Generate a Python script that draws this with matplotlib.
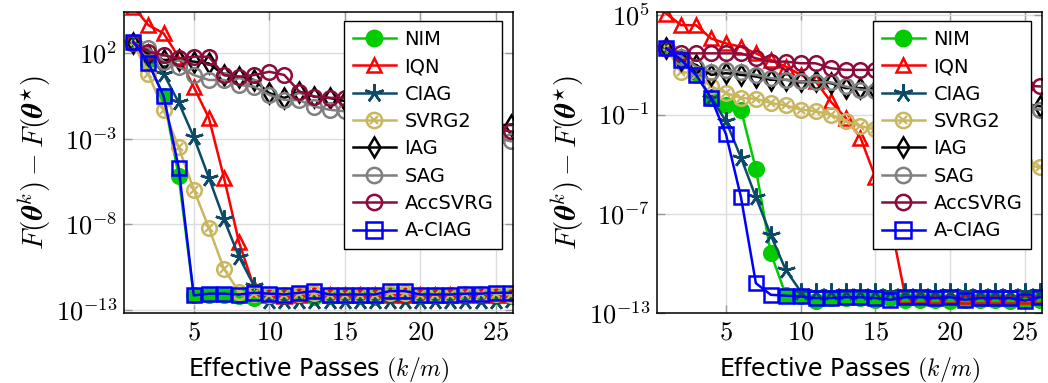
import numpy as np
import matplotlib
matplotlib.use("Agg")
import matplotlib.pyplot as plt
from matplotlib.legend_handler import HandlerTuple

plt.rcParams['font.family'] = ['DejaVu Sans']
plt.rcParams['mathtext.fontset'] = 'cm'

# ---------------- data (log10 of F(theta^k) - F(theta*)) ----------------
passes = list(range(1, 27))

methods = ["NIM", "IQN", "CIAG", "SVRG2", "IAG", "SAG", "AccSVRG", "A-CIAG"]

# left panel
nim_L = [2.6, 1.42, -0.5, -5.2, -12.15, -12.1, -12.1, -12.2, -12.3, -12.2, -12.2, -12.15, -12.25,
         -12.2, -12.2, -12.2, -12.25, -12.1, -12.2, -12.2, -12.2, -12.15, -12.2, -12.2, -12.2, -12.2]
iqn_L = [4.7, 3.63, 3.16, 1.77, 0.02, -1.78, -5.27, -9.05, -11.7, -12.1, -12.2, -12.1, -12.0,
         -12.1, -12.1, -12.1, -12.1, -12.1, -12.1, -12.1, -12.1, -12.1, -12.1, -12.1, -12.1, -12.1]
ciag_L = [2.6, 1.9, 0.8, -0.88, -2.9, -5.27, -7.7, -9.9, -11.6, -12.45, -12.5, -12.45, -12.5,
          -12.45, -12.5, -12.5, -12.45, -12.5, -12.45, -12.5, -12.5, -12.45, -12.5, -12.5, -12.45, -12.4]
svrg2_L = [2.6, 0.75, -1.3, -3.5, -5.97, -8.2, -10.6, -11.95, -12.05, -12.1, -12.1, -12.05, -12.0,
           -12.1, -12.1, -12.1, -12.1, -12.0, -12.0, -12.1, -12.1, -12.1, -12.05, -12.05, -12.05, -12.1]
iag_L = [2.6, 1.9, 1.6, 1.6, 1.5, 1.4, 0.72, 0.62, 0.43, -0.34, -0.62, -0.25, -0.55,
         -0.62, -0.8, -1.0, -1.1, -1.3, -1.4, -1.6, -1.7, -1.85, -2.0, -2.1, -2.2, -2.2]
sag_L = [2.6, 2.3, 1.5, 1.2, 0.72, 0.43, 0.43, 0.14, 0.04, -0.44, -0.73, -0.75, -1.12,
         -1.31, -1.4, -1.55, -1.7, -1.8, -1.95, -2.1, -2.3, -2.45, -2.6, -2.8, -2.95, -3.15]
accsvrg_L = [2.6, 2.08, 1.88, 1.69, 1.79, 1.79, 0.72, 0.62, 0.72, 0.91, 0.72, -0.25, -0.54,
             -0.62, -0.6, -0.8, -1.0, -1.1, -1.3, -1.5, -1.7, -1.9, -2.1, -2.3, -2.45, -2.57]
aciag_L = [2.66, 1.42, -0.5, -4.69, -12.15, -12.05, -12.05, -12.1, -12.0, -12.05, -12.1, -12.0, -11.9,
           -12.1, -12.1, -12.1, -12.1, -11.9, -11.9, -12.1, -12.1, -12.1, -12.05, -12.05, -12.0, -12.0]

# right panel
nim_R = [3.0, 2.3, 1.4, 0.0, -0.4, -0.7, -4.3, -9.4, -11.9, -12.0, -12.3, -12.1, -12.1,
         -12.1, -12.2, -12.1, -12.2, -12.2, -12.2, -12.3, -12.2, -12.2, -12.2, -12.3, -12.2, -12.2]
iqn_R = [5.1, 4.4, 4.4, 3.6, 3.3, 3.1, 2.7, 2.3, 1.9, 1.4, 1.0, -0.2, -1.2,
         -2.4, -4.8, -7.5, -12.0, -12.0, -12.0, -12.0, -12.0, -12.0, -12.0, -12.0, -12.0, -12.0]
ciag_R = [3.0, 2.4, 1.5, 0.0, -1.4, -3.6, -6.0, -8.3, -10.4, -11.7, -11.7, -11.75, -11.7,
          -11.7, -11.75, -11.7, -11.7, -11.7, -11.75, -11.7, -11.7, -11.7, -11.75, -11.7, -11.7, -11.75]
svrg2_R = [3.0, 1.6, 1.4, 0.7, 0.3, 0.0, -0.05, -0.3, -0.45, -0.7, -0.8, -1.0, -1.4,
           -1.7, -1.9, -2.1, -2.3, -2.5, -2.7, -2.9, -3.1, -3.4, -3.6, -3.8, -4.0, -4.2]
iag_R = [3.0, 2.3, 2.0, 1.4, 1.5, 1.4, 1.3, 1.1, 1.1, 1.0, 1.0, 0.9, 0.6,
         0.6, 0.5, 0.4, 0.3, 0.2, 0.1, 0.0, -0.1, -0.2, -0.3, -0.35, -0.4, -0.5]
sag_R = [3.0, 2.5, 1.9, 1.6, 1.7, 1.55, 1.4, 1.2, 1.1, 1.0, 0.95, 0.95, 0.7,
         0.5, 0.45, 0.35, 0.25, 0.15, 0.05, -0.05, -0.15, -0.3, -0.4, -0.5, -0.6, -0.7]
accsvrg_R = [3.0, 2.7, 2.7, 2.7, 2.7, 2.7, 2.4, 2.2, 2.2, 2.1, 2.1, 1.8, 1.7,
             1.7, 1.7, 1.6, 1.5, 1.4, 1.3, 1.2, 1.1, 1.0, 0.9, 0.8, 0.75, 0.7]
aciag_R = [3.0, 2.3, 1.4, 0.0, -2.2, -6.0, -11.2, -11.9, -11.95, -12.0, -12.1, -12.1, -12.05,
           -12.05, -12.1, -12.2, -12.05, -12.05, -12.1, -12.05, -12.2, -12.1, -12.1, -12.1, -12.25, -12.05]

xticks = [5, 10, 15, 20, 25]
xticklabels = [r'$5$', r'$10$', r'$15$', r'$20$', r'$25$']
yticks_L = [2, -3, -8, -13]
yticklabels_L = [r'$10^{2}$', r'$10^{-3}$', r'$10^{-8}$', r'$10^{-13}$']
yticks_R = [5, -1, -7, -13]
yticklabels_R = [r'$10^{5}$', r'$10^{-1}$', r'$10^{-7}$', r'$10^{-13}$']

# ---------------- styles ----------------
KHAKI = '#c9b65f'
styles = {
    "NIM": dict(color='#00cc00', marker='o', mfc='#00cc00', ms=10.5),
    "IQN": dict(color='#ff0000', marker='^', mfc='none', ms=10),
    "CIAG": dict(color='#0d4a68', marker=(5, 2, 0), mfc='none', ms=13),
    "SVRG2": dict(color=KHAKI, marker='o', mfc='none', ms=10.5),
    "IAG": dict(color='black', marker='d', mfc='none', ms=10),
    "SAG": dict(color='#808080', marker='o', mfc='none', ms=10.5),
    "AccSVRG": dict(color='#8c0b3a', marker='o', mfc='none', ms=10.5),
    "A-CIAG": dict(color='#0000ff', marker='s', mfc='none', ms=10.5),
}

fig = plt.figure(figsize=(10.48, 3.83), dpi=100)
axL = fig.add_axes([124 / 1048, 70 / 383, 389 / 1048, 301 / 383])
axR = fig.add_axes([657 / 1048, 70 / 383, 385 / 1048, 301 / 383])

panels = [
    (axL, [nim_L, iqn_L, ciag_L, svrg2_L, iag_L, sag_L, accsvrg_L, aciag_L],
     (-13.18, 4.4), yticks_L, yticklabels_L),
    (axR, [nim_R, iqn_R, ciag_R, svrg2_R, iag_R, sag_R, accsvrg_R, aciag_R],
     (-13.0, 5.2), yticks_R, yticklabels_R),
]

for ax, series, ylim, yt, ytl in panels:
    handles = []
    for name, vals in zip(methods, series):
        st = styles[name]
        y = 10.0 ** np.array(vals)
        ln, = ax.plot(passes, y, color=st['color'], lw=1.8, marker=st['marker'],
                      ms=st['ms'], mfc=st['mfc'], mec=st['color'], mew=1.8,
                      clip_on=True)
        h = ln
        if name == "SVRG2":
            xm, = ax.plot(passes, y, ls='none', marker='x', ms=6, mec=KHAKI, mew=1.6)
            h = (ln, xm)
        handles.append(h)
    ax.set_yscale('log')
    ax.set_xlim(0.38, 26.15)
    ax.set_ylim(10.0 ** ylim[0], 10.0 ** ylim[1])
    ax.set_xticks(xticks)
    ax.set_xticklabels(xticklabels, fontsize=19)
    ax.set_yticks([10.0 ** v for v in yt])
    ax.set_yticklabels(ytl, fontsize=19)
    ax.yaxis.set_minor_locator(matplotlib.ticker.NullLocator())
    ax.grid(True, color='#dcdcdc', lw=1.0)
    ax.set_axisbelow(True)
    ax.tick_params(direction='in', length=6, width=1, color='#999999', top=True, right=True,
                   pad=5)
    for sp in ax.spines.values():
        sp.set_linewidth(1.1)
        sp.set_color('black')
    ax.set_xlabel(r'Effective Passes $(k/m)$', fontsize=17, labelpad=7)
    ax.set_ylabel(r'$F(\boldsymbol{\theta}^{k})-F(\boldsymbol{\theta}^{\star})$', fontsize=21,
                  labelpad=2)
    leg = ax.legend(handles, methods, loc='upper right', bbox_to_anchor=(0.972, 0.97),
                    borderaxespad=0, fontsize=14, frameon=True, fancybox=False,
                    edgecolor='black', framealpha=1, handlelength=2.2, labelspacing=0.43,
                    handletextpad=0.45, borderpad=0.45, markerscale=1.05,
                    handler_map={tuple: HandlerTuple(ndivide=1, pad=0)})
    leg.get_frame().set_linewidth(1.0)

fig.savefig('out.png', dpi=100)
